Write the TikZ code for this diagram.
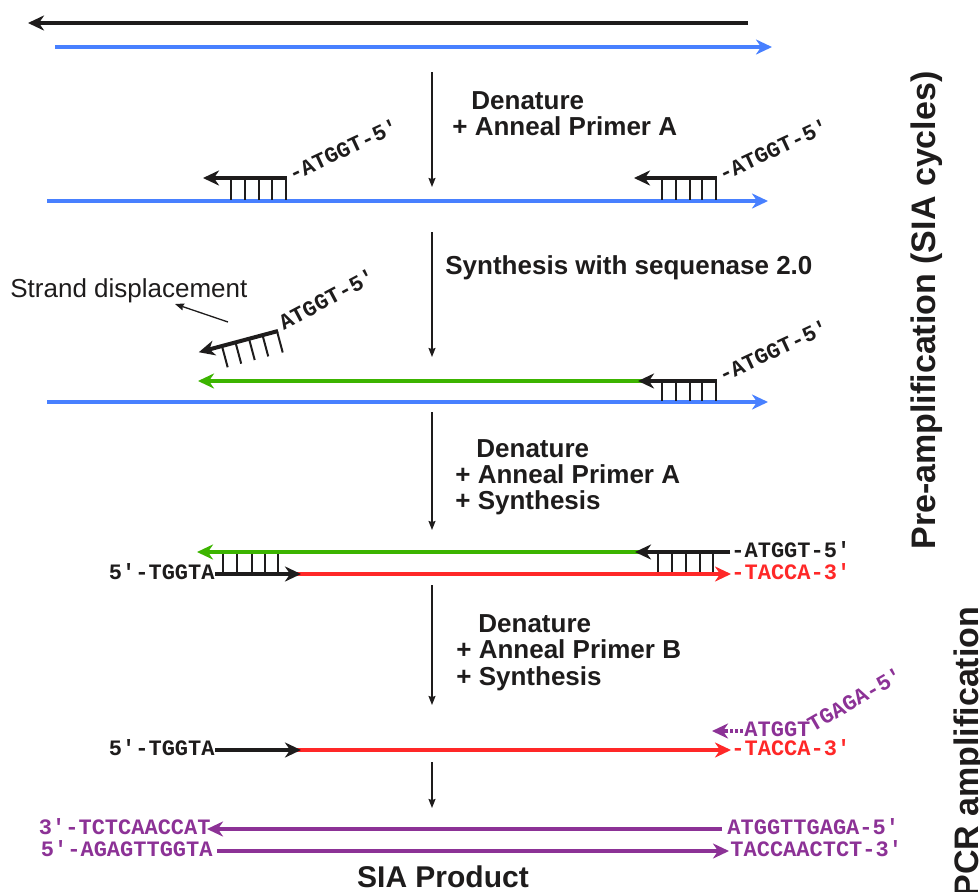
\documentclass[tikz,border=0pt]{standalone}
\usepackage{fontspec}
\setmainfont{Liberation Sans}
\newfontfamily\mono{Liberation Mono}
\usetikzlibrary{arrows.meta}
\definecolor{sblue}{RGB}{72,128,255}
\definecolor{sgreen}{RGB}{60,180,0}
\definecolor{sred}{RGB}{255,40,40}
\definecolor{spurple}{RGB}{140,50,150}
\definecolor{sblack}{RGB}{30,28,28}
\begin{document}
\begin{tikzpicture}[x=0.5pt,y=-0.5pt,
  strand/.style={line width=2pt},
  hd/.style={-{Stealth[length=8pt,width=7.5pt,inset=2.5pt]}},
  tickline/.style={line width=1pt,sblack},
  down/.style={line width=0.65pt,sblack,-{Stealth[length=4.5pt,width=3.5pt,inset=0.5pt]}},
  steptxt/.style={font=\fontsize{13}{15}\selectfont\bfseries,anchor=base west,inner sep=0pt,text=sblack},
  seq/.style={font=\mono\bfseries\fontsize{11}{13}\selectfont,inner sep=0pt,text=sblack},
  seqb/.style={font=\mono\bfseries\fontsize{11}{13}\selectfont,inner sep=0pt,text=spurple},
  side/.style={font=\fontsize{17}{20}\selectfont\bfseries,rotate=90,anchor=base west,inner sep=0pt,text=sblack}
  ]
\useasboundingbox (0,0) rectangle (980,891);

% ---- row 0: original duplex
\draw[strand,sblack,hd] (748,23) -- (28,23);
\draw[strand,sblue,hd] (55,47) -- (772,47);

% step 1
\draw[down] (432,72) -- (432,187);
\node[steptxt] (s1a) at (471,109) {Denature};
\node[steptxt] (s1b) at (452,135) {+ Anneal Primer A};

% ---- row 1
\draw[strand,sblue,hd] (47,201) -- (768,201);
\foreach \x in {231,245,259,272,286} \draw[tickline] (\x,178) -- (\x,200);
\draw[strand,sblack,hd] (287,178) -- (203,178);
\node[seq,rotate=25,anchor=mid west] (p1l) at (290,177) {-ATGGT-5′};
\foreach \x in {662,676,690,702,716} \draw[tickline] (\x,178) -- (\x,200);
\draw[strand,sblack,hd] (717,178) -- (634,178);
\node[seq,rotate=25,anchor=mid west] (p1r) at (720,177) {-ATGGT-5′};

% step 2
\draw[down] (432,232) -- (432,357);
\node[steptxt] (s2) at (445,274) {Synthesis with sequenase 2.0};

% ---- row 2
\node[font=\fontsize{13}{15}\selectfont,anchor=base west,inner sep=0pt,text=sblack] (sd) at (10,297) {Strand displacement};
\draw[line width=0.65pt,sblack,-{Stealth[length=4.5pt,width=3.5pt,inset=0.5pt]}] (228,322) -- (175,304);
\begin{scope}[shift={(278,331)},rotate=15]
  \foreach \x in {-58,-44,-30,-16,-1} \draw[tickline] (\x,0) -- (\x,22);
  \draw[strand,sblack,hd] (0,0) -- (-82,0);
\end{scope}
\node[seq,rotate=28,anchor=mid west] (p2l) at (281,326) {ATGGT-5′};
\draw[strand,sblue,hd] (47,402) -- (768,402);
\draw[strand,sgreen,hd] (645,381) -- (198,381);
\foreach \x in {662,676,690,702,716} \draw[tickline] (\x,381) -- (\x,401);
\draw[strand,sblack,hd] (717,381) -- (638,381);
\node[seq,rotate=25,anchor=mid west] (p2r) at (720,378) {-ATGGT-5′};

% step 3
\draw[down] (432,412) -- (432,530);
\node[steptxt] (s3a) at (476,457) {Denature};
\node[steptxt] (s3b) at (455,483) {+ Anneal Primer A};
\node[steptxt] (s3c) at (455,509) {+ Synthesis};

% ---- row 3
\foreach \x in {223,237,252,265,278} \draw[tickline] (\x,552) -- (\x,573);
\foreach \x in {658,672,686,700,713} \draw[tickline] (\x,552) -- (\x,573);
\draw[strand,sgreen,hd] (645,552) -- (197,552);
\draw[strand,sblack,hd] (730,552) -- (635,552);
\node[seq,anchor=mid west] (r3a) at (731,552) {-ATGGT-5′};
\draw[strand,sred,hd] (295,574) -- (731,574);
\draw[strand,sblack,hd] (215,574) -- (301,574);
\node[seq,anchor=mid east] (r3b) at (215,574) {5′-TGGTA};
\node[seq,anchor=mid west,text=sred] (r3c) at (731,574) {-TACCA-3′};

% step 4
\draw[down] (432,585) -- (432,705);
\node[steptxt] (s4a) at (478,632) {Denature};
\node[steptxt] (s4b) at (456,658) {+ Anneal Primer B};
\node[steptxt] (s4c) at (456,685) {+ Synthesis};

% ---- row 4
\draw[line width=2pt,spurple,dash pattern=on 1.5pt off 1pt] (743,731) -- (724,731);
\draw[strand,spurple,hd] (728,731) -- (712,731);
\node[seq,anchor=mid west,text=spurple] (r4a) at (744,731) {ATGGT};
\node[seq,rotate=30,anchor=mid west,text=spurple] (r4b) at (810,728) {TGAGA-5′};
\draw[strand,sred,hd] (295,750) -- (731,750);
\draw[strand,sblack,hd] (215,750) -- (301,750);
\node[seq,anchor=mid east] (r4c) at (215,750) {5′-TGGTA};
\node[seq,anchor=mid west,text=sred] (r4d) at (731,750) {-TACCA-3′};

% step 5
\draw[down] (432,762) -- (432,808);

% ---- row 5/6: SIA product
\draw[strand,spurple,hd] (722,829) -- (207,829);
\draw[strand,spurple,hd] (217,851) -- (729,851);
\node[seqb,anchor=mid east] (b1) at (211,829) {3′-TCTCAACCAT};
\node[seqb,anchor=mid east] (b2) at (213,851) {5′-AGAGTTGGTA};
\node[seqb,anchor=mid west] (b3) at (727,829) {ATGGTTGAGA-5′};
\node[seqb,anchor=mid west] (b4) at (730,851) {TACCAACTCT-3′};
\node[font=\fontsize{15}{17}\selectfont\bfseries,anchor=base,inner sep=0pt,text=sblack] (prod) at (443,887) {SIA Product};

% side labels
\node[side] (pre) at (935,550) {Pre-amplification (SIA cycles)};
\node[side] (pcr) at (978,898) {PCR amplification};
\end{tikzpicture}
\end{document}
